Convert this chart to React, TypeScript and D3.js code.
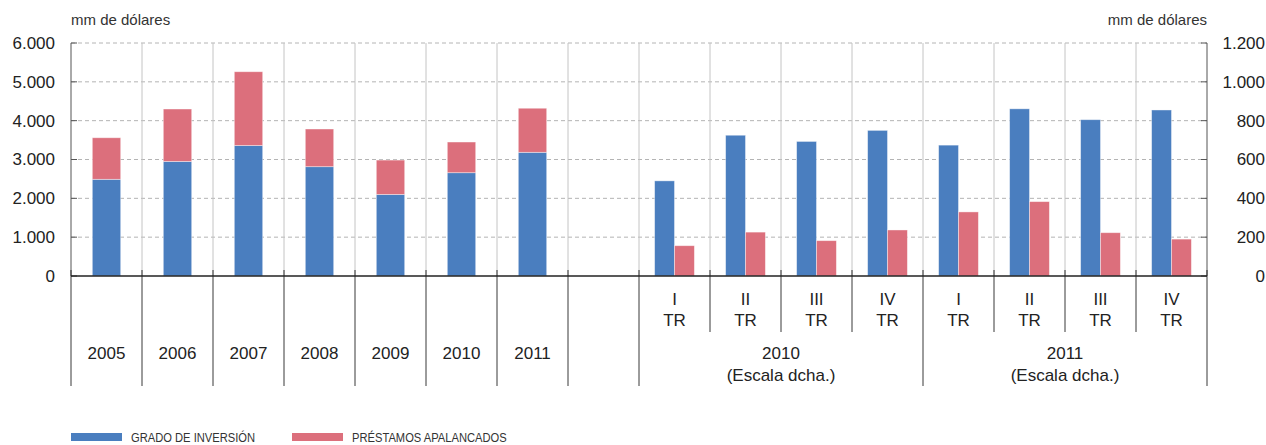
import React from "react";
import * as d3 from "d3";

// annual figures (left scale)
const years = ["2005", "2006", "2007", "2008", "2009", "2010", "2011"];
const yearGrado = [2490, 2950, 3360, 2815, 2100, 2660, 3185];
const yearApalancados = [1070, 1350, 1900, 970, 885, 790, 1135];

// quarterly figures (right scale)
const quarters = ["I", "II", "III", "IV", "I", "II", "III", "IV"];
const quarterYears = ["2010", "2010", "2010", "2010", "2011", "2011", "2011", "2011"];
const quarterGrado = [490, 725, 693, 750, 674, 861, 805, 855];
const quarterApalancados = [156, 226, 182, 237, 330, 383, 223, 190];

const leftTicks = [0, 1000, 2000, 3000, 4000, 5000, 6000];
const rightTicks = [0, 200, 400, 600, 800, 1000, 1200];
const seriesNames = ["GRADO DE INVERSIÓN", "PRÉSTAMOS APALANCADOS"];

const BLUE = "#4a7ebf";
const RED = "#dc6f7c";
const FONT = "'Liberation Sans', Arial, Helvetica, sans-serif";

const WIDTH = 1266;
const HEIGHT = 445;
const margin = { left: 71, right: 59, top: 43 };
const zeroY = 276;

const fmt = (v: number) => v.toLocaleString("de-DE");

const App = () => {
  // 7 years, one empty slot, 8 quarters
  const slots = [
    ...years.map((y) => `y${y}`),
    "gap",
    ...quarters.map((q, i) => `q${quarterYears[i]}${q}`),
  ];

  const x = d3
    .scaleBand<string>()
    .domain(slots)
    .range([margin.left, WIDTH - margin.right])
    .padding(0);
  const bw = x.bandwidth();

  const yLeft = d3.scaleLinear().domain([0, 6000]).range([zeroY, margin.top]);
  const yRight = d3.scaleLinear().domain([0, 1200]).range([zeroY, margin.top]);

  const sub = d3
    .scaleBand<string>()
    .domain(["grado", "apal"])
    .range([bw * 0.22, bw * 0.78]);

  const stacked = d3
    .stack<number>()
    .keys(["grado", "apal"])
    .value((i, key) => (key === "grado" ? yearGrado[i] : yearApalancados[i]))(
    years.map((_, i) => i)
  );

  const x0 = margin.left;
  const x1 = WIDTH - margin.right;
  const boundaries = d3.range(slots.length + 1).map((i) => x0 + i * bw);

  const groupYears = Array.from(new Set(quarterYears));

  return (
    <svg
      width={WIDTH}
      height={HEIGHT}
      style={{ position: "absolute", left: 0, top: 0, background: "#fff" }}
      fontFamily={FONT}
    >
      {/* units */}
      <text x={x0} y={25} fontSize={15} fill="#333">
        mm de dólares
      </text>
      <text x={x1} y={25} fontSize={15} fill="#333" textAnchor="end">
        mm de dólares
      </text>

      {/* horizontal dashed grid */}
      {leftTicks.slice(1).map((t) => (
        <line
          key={`g${t}`}
          x1={x0}
          x2={x1}
          y1={yLeft(t)}
          y2={yLeft(t)}
          stroke="#b4b4b4"
          strokeDasharray="4,3"
        />
      ))}

      {/* vertical grid above axis */}
      {boundaries.slice(1, -1).map((bx, i) => (
        <line
          key={`v${i}`}
          x1={bx}
          x2={bx}
          y1={margin.top}
          y2={zeroY}
          stroke="#c4c4c4"
        />
      ))}

      {/* annual stacked bars */}
      {stacked.map((layer) =>
        layer.map((d, i) => (
          <rect
            key={`${layer.key}${i}`}
            x={(x(`y${years[i]}`) as number) + bw * 0.3}
            width={bw * 0.4}
            y={yLeft(d[1])}
            height={yLeft(d[0]) - yLeft(d[1])}
            fill={layer.key === "grado" ? BLUE : RED}
            stroke="#fff"
            strokeOpacity={0.5}
            strokeWidth={0.8}
          />
        ))
      )}

      {/* quarterly grouped bars */}
      {quarters.map((q, i) => {
        const sx = x(`q${quarterYears[i]}${q}`) as number;
        return (
          <g key={`q${i}`} transform={`translate(${sx},0)`}>
            <rect
              x={sub("grado")}
              width={sub.bandwidth()}
              y={yRight(quarterGrado[i])}
              height={zeroY - yRight(quarterGrado[i])}
              fill={BLUE}
              stroke="#fff"
              strokeOpacity={0.5}
              strokeWidth={0.8}
            />
            <rect
              x={sub("apal")}
              width={sub.bandwidth()}
              y={yRight(quarterApalancados[i])}
              height={zeroY - yRight(quarterApalancados[i])}
              fill={RED}
              stroke="#fff"
              strokeOpacity={0.5}
              strokeWidth={0.8}
            />
          </g>
        );
      })}

      {/* axes */}
      <line x1={x0} x2={x0} y1={margin.top} y2={zeroY} stroke="#555" />
      <line x1={x1} x2={x1} y1={margin.top} y2={zeroY} stroke="#555" />
      {leftTicks.map((t) => (
        <g key={`l${t}`}>
          <line x1={x0} x2={x0 + 6} y1={yLeft(t)} y2={yLeft(t)} stroke="#555" />
          <text
            x={55}
            y={yLeft(t)}
            dy="0.35em"
            textAnchor="end"
            fontSize={17}
            fill="#222"
          >
            {fmt(t)}
          </text>
        </g>
      ))}
      {rightTicks.map((t) => (
        <g key={`r${t}`}>
          <line x1={x1 - 6} x2={x1} y1={yRight(t)} y2={yRight(t)} stroke="#555" />
          <text
            x={1265}
            y={yRight(t)}
            dy="0.35em"
            textAnchor="end"
            fontSize={17}
            fill="#222"
          >
            {fmt(t)}
          </text>
        </g>
      ))}
      <line x1={x0} x2={x1} y1={zeroY} y2={zeroY} stroke="#222" strokeWidth={1.3} />

      {/* category dividers below axis */}
      {boundaries.map((bx, i) => {
        const isQuarterInner = i > 8 && i < 16 && i !== 12;
        return (
          <line
            key={`d${i}`}
            x1={bx}
            x2={bx}
            y1={zeroY - 6}
            y2={isQuarterInner ? 332 : 386}
            stroke="#222"
            strokeWidth={0.9}
          />
        );
      })}

      {/* year labels */}
      {years.map((y) => (
        <text
          key={`yl${y}`}
          x={(x(`y${y}`) as number) + bw / 2}
          y={359}
          textAnchor="middle"
          fontSize={17}
          fill="#222"
        >
          {y}
        </text>
      ))}

      {/* quarter labels */}
      {quarters.map((q, i) => {
        const cx = (x(`q${quarterYears[i]}${q}`) as number) + bw / 2;
        return (
          <g key={`ql${i}`}>
            <text x={cx} y={305} textAnchor="middle" fontSize={17} fill="#222">
              {q}
            </text>
            <text x={cx} y={326} textAnchor="middle" fontSize={17} fill="#222">
              TR
            </text>
          </g>
        );
      })}

      {/* quarter group labels */}
      {groupYears.map((gy) => {
        const idx = quarterYears
          .map((v, i) => (v === gy ? i : -1))
          .filter((i) => i >= 0);
        const first = x(`q${gy}${quarters[idx[0]]}`) as number;
        const last = (x(`q${gy}${quarters[idx[idx.length - 1]]}`) as number) + bw;
        const cx = (first + last) / 2;
        return (
          <g key={`gl${gy}`}>
            <text x={cx} y={359} textAnchor="middle" fontSize={17} fill="#222">
              {gy}
            </text>
            <text x={cx} y={381} textAnchor="middle" fontSize={17} fill="#222">
              (Escala dcha.)
            </text>
          </g>
        );
      })}

      {/* legend (condensed type, as in the original) */}
      {seriesNames.map((name, i) => {
        const lx = i === 0 ? 71 : 292;
        return (
          <g key={name} transform={`translate(${lx},433)`}>
            <rect width={51} height={8} fill={i === 0 ? BLUE : RED} />
            <g transform="translate(60,0) scale(0.86,1)">
              <text x={0} y={9} fontSize={13} fill="#333">
                {name}
              </text>
            </g>
          </g>
        );
      })}
    </svg>
  );
};

export default App;
